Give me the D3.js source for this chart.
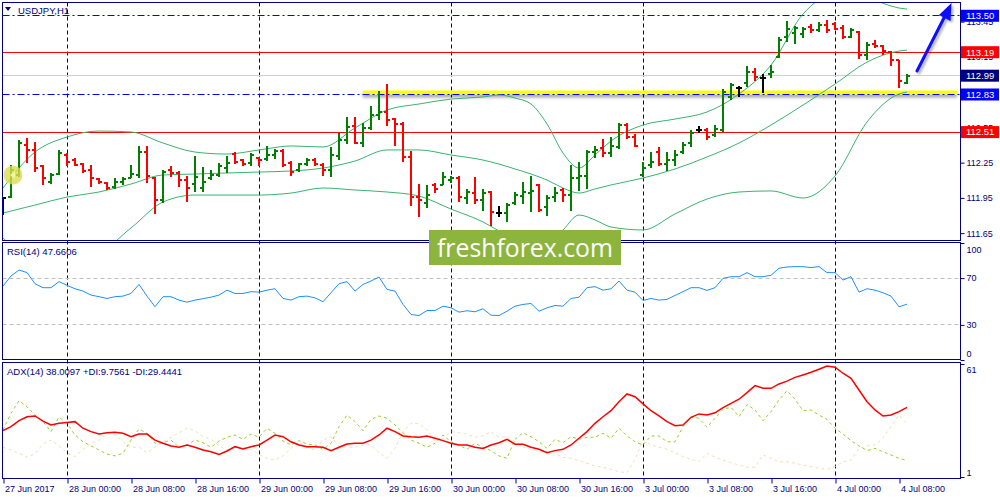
<!DOCTYPE html>
<html>
<head>
<meta charset="utf-8" />
<script src="https://d3js.org/d3.v7.min.js"></script>
<style>
  body { margin: 0; background: #ffffff; }
  svg { display: block; font-family: "Liberation Sans", Arial, sans-serif; }
</style>
</head>
<body>
<svg id="chart" width="1000" height="500"></svg>
<script>
// ---- data (USDJPY H1, bar 0 = 27 Jun 16:00) ----
var openP = [111.949,111.957,112.145,112.400,112.358,112.221,112.085,112.153,112.315,112.272,
  112.238,112.187,112.111,112.077,112.043,112.085,112.119,112.145,112.340,112.119,
  111.932,112.187,112.162,112.102,112.068,112.034,112.119,112.145,112.204,112.323,
  112.272,112.247,112.289,112.281,112.315,112.349,112.247,112.187,112.238,112.272,
  112.230,112.187,112.306,112.443,112.562,112.417,112.545,112.655,112.681,112.621,
  112.579,112.298,111.957,111.906,112.060,112.060,112.102,112.119,111.949,111.991,
  111.932,112.000,111.821,111.821,111.906,111.966,111.991,112.060,111.872,111.957,
  112.017,111.974,112.119,112.136,112.340,112.375,112.332,112.383,112.570,112.468,
  112.145,112.230,112.340,112.238,112.272,112.340,112.417,112.528,112.528,112.485,
  112.528,112.809,112.885,112.928,113.021,112.970,113.004,113.149,113.319,113.353,
  113.345,113.404,113.379,113.421,113.430,113.396,113.319,113.362,113.166,113.260,
  113.243,113.191,113.123,112.928];
var highP = [111.957,112.230,112.443,112.460,112.426,112.230,112.162,112.358,112.332,112.289,
  112.247,112.230,112.119,112.085,112.119,112.128,112.230,112.392,112.392,112.128,
  112.187,112.221,112.179,112.136,112.306,112.213,112.187,112.247,112.306,112.340,
  112.281,112.332,112.298,112.392,112.366,112.366,112.264,112.247,112.289,112.289,
  112.247,112.383,112.502,112.638,112.638,112.587,112.732,112.860,112.919,112.630,
  112.596,112.349,112.068,112.060,112.077,112.170,112.136,112.136,112.026,112.128,
  112.026,112.009,111.881,111.906,112.000,112.085,112.136,112.068,111.974,112.043,
  112.034,112.230,112.255,112.358,112.392,112.451,112.468,112.587,112.587,112.494,
  112.255,112.340,112.383,112.340,112.358,112.426,112.528,112.562,112.545,112.570,
  112.877,112.928,112.902,113.072,113.055,113.004,113.081,113.319,113.455,113.413,
  113.404,113.430,113.447,113.464,113.447,113.421,113.396,113.370,113.277,113.294,
  113.251,113.200,113.123,113.004];
var lowP = [111.804,111.949,112.128,112.247,112.170,112.060,112.068,112.145,112.221,112.221,
  112.162,112.043,112.068,112.017,112.026,112.060,112.119,112.119,112.077,111.813,
  111.906,112.128,112.043,111.915,112.000,112.000,112.102,112.128,112.162,112.238,
  112.221,112.221,112.221,112.264,112.281,112.213,112.136,112.170,112.221,112.221,
  112.136,112.128,112.272,112.409,112.409,112.383,112.528,112.613,112.562,112.392,
  112.255,111.881,111.787,111.864,111.991,112.060,112.077,111.915,111.898,111.898,
  111.838,111.711,111.787,111.745,111.889,111.898,111.830,111.830,111.796,111.915,
  111.915,111.838,112.009,112.026,112.289,112.298,112.298,112.366,112.451,112.383,
  112.128,112.204,112.221,112.179,112.221,112.323,112.383,112.502,112.443,112.468,
  112.511,112.783,112.809,112.894,112.945,112.843,112.970,113.140,113.277,113.260,
  113.311,113.353,113.362,113.353,113.379,113.302,113.311,113.132,113.123,113.225,
  113.166,113.072,112.885,112.919];
var closeP = [111.949,112.187,112.417,112.358,112.204,112.119,112.145,112.332,112.255,112.230,
  112.179,112.119,112.085,112.034,112.085,112.111,112.153,112.340,112.136,111.932,
  112.170,112.162,112.102,112.034,112.128,112.085,112.145,112.221,112.247,112.255,
  112.238,112.315,112.272,112.315,112.349,112.230,112.170,112.238,112.272,112.238,
  112.187,112.315,112.443,112.553,112.417,112.545,112.655,112.681,112.613,112.579,
  112.298,111.957,111.932,111.974,112.026,112.128,112.119,111.957,112.000,111.932,
  111.991,111.830,111.821,111.889,111.974,112.000,112.009,111.847,111.949,111.991,
  111.974,112.119,112.136,112.340,112.358,112.332,112.392,112.570,112.468,112.392,
  112.204,112.255,112.238,112.272,112.315,112.400,112.502,112.528,112.468,112.536,
  112.851,112.911,112.885,113.021,112.979,112.970,113.021,113.294,113.387,113.396,
  113.387,113.379,113.421,113.379,113.387,113.319,113.379,113.166,113.251,113.243,
  113.200,113.123,112.945,112.990];

// Bollinger bands, read at these bar indices
var bbIdx = [0,4,8,12,16,20,24,28,32,36,40,44,48,52,56,60,62,64,66,68,70,72,74,76,80,84,88,92,96,100,104,108,112,113];
var bbUpper = [112.034,112.340,112.468,112.519,112.511,112.417,112.340,112.323,112.358,112.392,
  112.383,112.545,112.698,112.749,112.791,112.809,112.826,112.800,112.749,112.579,
  112.332,112.204,112.315,112.434,112.570,112.621,112.681,112.834,113.081,113.515,
  113.685,113.651,113.566,113.557];
var bbMiddle = [111.821,111.889,111.957,112.000,112.068,112.145,112.153,112.162,112.170,112.179,
  112.204,112.264,112.358,112.358,112.315,112.272,112.238,112.196,112.153,112.102,
  112.034,111.991,112.026,112.060,112.119,112.196,112.298,112.417,112.570,112.740,
  112.919,113.106,113.200,113.208];
var bbLower = [111.609,111.438,111.447,111.489,111.694,111.915,111.974,111.974,111.974,111.991,
  112.034,112.017,112.000,111.966,111.855,111.745,111.668,111.592,111.549,111.549,
  111.677,111.804,111.762,111.702,111.677,111.813,111.940,112.000,112.009,111.949,
  112.136,112.596,112.834,112.851];

var rsi = [63.2,71.8,76.9,74.7,65.2,61.8,61.8,67.0,63.8,60.9,58.9,55.5,54.1,52.6,54.1,54.6,56.9,64.6,54.6,45.5,
  54.1,54.1,51.2,49.4,51.2,52.4,53.7,55.5,59.7,56.9,56.9,58.4,58.0,59.7,60.9,52.6,51.2,54.1,54.6,53.1,
  49.8,57.5,65.2,67.0,58.9,64.6,67.5,70.9,60.3,58.9,47.5,38.9,38.0,42.3,42.3,46.0,44.6,40.9,42.1,41.2,
  43.8,38.3,38.0,41.7,46.0,47.5,48.3,41.7,44.6,46.6,46.0,52.6,53.7,61.8,62.7,59.7,60.9,67.5,59.7,58.0,
  50.9,52.6,51.2,51.8,55.2,58.4,61.8,61.8,59.5,61.8,69.8,71.2,71.2,74.7,71.2,71.2,72.4,78.4,79.5,79.8,
  79.8,79.0,79.8,74.7,74.7,68.3,71.2,58.0,60.9,59.7,57.5,54.6,45.5,47.7];

var adx = [25.6,27.7,30.9,33.0,33.4,30.7,28.6,29.5,30.0,30.4,26.9,25.1,23.8,24.5,24.7,24.2,22.4,23.8,23.8,20.6,
  18.9,17.5,16.8,18.0,16.8,15.3,14.4,13.0,14.8,17.1,15.9,17.1,18.0,20.6,23.3,22.4,19.7,18.0,17.1,17.1,
  16.8,15.0,16.8,18.5,18.9,18.9,20.6,23.3,26.9,25.1,22.8,22.4,22.1,22.8,21.6,20.3,18.9,18.0,18.0,16.8,
  16.2,18.0,19.2,21.0,18.4,18.4,16.8,15.7,13.9,15.0,15.7,18.0,21.6,25.1,29.5,33.0,36.2,41.0,45.1,43.6,
  39.8,36.2,33.4,30.4,28.2,28.6,32.7,34.5,33.9,35.1,37.8,40.1,42.3,45.8,49.5,48.1,48.1,50.4,51.9,53.9,
  55.2,56.6,58.2,59.9,59.3,56.1,53.4,47.2,41.0,36.6,33.4,33.9,35.7,38.0];
var plusDI = [26.0,34.8,41.5,38.3,33.9,30.4,25.1,32.7,29.5,23.3,19.7,17.5,15.3,13.2,12.2,13.6,20.6,26.5,24.2,18.9,
  19.2,20.6,16.8,18.0,20.6,19.2,16.8,20.1,22.1,23.3,21.0,23.8,22.1,26.9,24.2,20.1,18.0,20.3,18.5,18.0,
  15.7,18.9,27.7,33.9,30.4,25.6,31.6,33.4,32.2,28.6,24.5,20.6,18.9,16.8,18.9,23.3,19.7,18.0,15.7,18.9,
  16.8,15.0,12.2,10.9,21.0,24.5,22.4,19.7,16.2,21.0,19.2,22.4,21.0,22.1,22.1,24.2,21.6,26.9,22.8,19.7,
  18.0,22.8,22.8,19.7,19.7,27.7,32.7,32.2,27.4,32.2,37.0,38.0,33.0,39.5,36.6,30.9,35.7,41.9,46.8,42.3,
  36.2,36.6,33.9,31.6,26.9,23.8,20.3,17.5,15.0,16.2,14.4,12.7,10.9,9.8];
var minusDI = [16.8,15.3,13.6,11.5,13.2,18.5,20.6,17.5,13.9,11.8,15.7,18.9,20.6,24.2,23.3,19.7,16.8,16.8,13.9,16.8,
  19.7,22.1,24.5,26.9,25.6,22.4,21.0,17.5,15.3,17.1,16.8,15.7,13.0,10.9,10.0,12.2,16.2,19.2,16.8,15.3,
  20.6,22.4,17.5,16.8,16.8,18.0,18.0,13.9,10.9,16.2,25.1,29.5,29.3,26.0,19.7,21.6,25.1,24.5,23.8,22.1,
  22.8,25.1,22.1,22.4,19.7,16.8,15.7,14.4,14.4,13.6,11.5,10.9,9.7,8.3,6.8,6.2,5.1,3.8,3.3,10.4,
  20.6,18.0,16.8,15.7,13.9,11.8,10.4,9.1,13.6,11.5,10.0,8.6,7.4,6.2,6.2,12.7,10.9,9.1,9.1,8.3,
  7.4,6.5,5.6,5.1,6.5,9.1,10.0,16.2,17.5,18.0,21.6,27.7,33.9,29.4];

// 112.85 sits fully under the 112.83 label box in the picture, so only its tick is drawn
var priceTicks = [111.65, 111.95, 112.25, 112.55, 112.85, 113.15, 113.45];
var hiddenPriceLabels = [112.85];
var rsiTicks = [0, 30, 70, 100];
var rsiLevels = [30, 70];
var adxTicks = [1, 61];
var levels = [113.50, 113.19, 112.99, 112.83, 112.51];
var levelKind = ["dashdot", "solid", "bid", "dashdot", "solid"];
var dayStarts = [8, 32, 56, 80, 104];
var timeTickIdx = [0,8,16,24,32,40,48,56,64,72,80,88,96,104,112];
var timeLabels = ["27 Jun 2017","28 Jun 00:00","28 Jun 08:00","28 Jun 16:00","29 Jun 00:00",
  "29 Jun 08:00","29 Jun 16:00","30 Jun 00:00","30 Jun 08:00","30 Jun 16:00",
  "3 Jul 00:00","3 Jul 08:00","3 Jul 16:00","4 Jul 00:00","4 Jul 08:00"];

// ---- layout ----
var navy = "#000080";
var left = 2.5, right = 960.5;
var mainTop = 2.5, mainBottom = 240.5;
var rsiTop = 242.5, rsiBottom = 359.5;
var adxTop = 362.5, adxBottom = 478.5;

var x = d3.scaleLinear().domain([0, 113]).range([3, 907]);
var yMain = d3.scaleLinear().domain([111.583, 113.613]).range([241, 2.5]);
var yRsi = d3.scaleLinear().domain([0, 100]).range([360, 243]);
var yAdx = d3.scaleLinear().domain([1, 61]).range([477, 364]);
function crisp(v) { return Math.floor(v) + 0.5; }

var svg = d3.select("#chart");
svg.append("rect").attr("width", 1000).attr("height", 500).attr("fill", "#fff");

var defs = svg.append("defs");
function clip(id, y0, y1) {
  defs.append("clipPath").attr("id", id).append("rect")
    .attr("x", 3).attr("y", y0).attr("width", 957.5).attr("height", y1 - y0);
}
clip("clipMain", 3, 240.5);
clip("clipRsi", 243, 359.5);
clip("clipAdx", 363, 478.5);

defs.append("filter").attr("id", "shadow")
  .attr("x", "-10%").attr("y", "-60%").attr("width", "120%").attr("height", "400%")
  .append("feDropShadow").attr("dx", 0).attr("dy", 3).attr("stdDeviation", 1.5)
  .attr("flood-color", "#000").attr("flood-opacity", 0.35);
defs.append("filter").attr("id", "arrowShadow")
  .attr("x", "-50%").attr("y", "-50%").attr("width", "200%").attr("height", "200%")
  .append("feDropShadow").attr("dx", 2).attr("dy", 2).attr("stdDeviation", 1.2)
  .attr("flood-color", "#000").attr("flood-opacity", 0.3);

// ---- vertical day separators across all panels ----
svg.append("g").selectAll("line").data(dayStarts).join("line")
  .attr("x1", d => x(d) + 0.5).attr("x2", d => x(d) + 0.5)
  .attr("y1", mainTop).attr("y2", adxBottom)
  .attr("stroke", navy).attr("stroke-width", 1).attr("stroke-dasharray", "4,3");

// ---- main panel ----
var gMain = svg.append("g").attr("clip-path", "url(#clipMain)");

// yellow support highlight under 112.83
gMain.append("rect")
  .attr("x", x(44.95)).attr("y", yMain(112.83) - 4)
  .attr("width", 957 - x(44.95)).attr("height", 4)
  .attr("fill", "#ffff00").attr("filter", "url(#shadow)");

var kindStroke = { dashdot: "#0000ff", solid: "#ff0000", bid: "#d0d0d0" };
var kindBox = { dashdot: "#0000ff", solid: "#ff0000", bid: "#00007f" };
gMain.selectAll(".level").data(levels).join("line").attr("class", "level")
  .attr("x1", left).attr("x2", right)
  .attr("y1", d => crisp(yMain(d))).attr("y2", d => crisp(yMain(d)))
  .attr("stroke", (d, k) => kindStroke[levelKind[k]])
  .attr("stroke-width", 1)
  .attr("stroke-dasharray", (d, k) => levelKind[k] === "dashdot" ? "7,3,2,3" : null);

var bandLine = d3.line()
  .x((d, k) => x(bbIdx[k]))
  .y(d => yMain(d))
  .curve(d3.curveMonotoneX);
[bbUpper, bbMiddle, bbLower].forEach(function (arr) {
  gMain.append("path").attr("d", bandLine(arr))
    .attr("fill", "none").attr("stroke", "#3cb371").attr("stroke-width", 1);
});

var bars = d3.range(closeP.length).map(function (i) {
  return { i: i, o: openP[i], h: highP[i], l: lowP[i], c: closeP[i] };
});
var barG = gMain.selectAll(".bar").data(bars).join("g").attr("class", "bar")
  .attr("stroke", d => d.c > d.o ? "#008000" : (d.c < d.o ? "#ff0000" : "#000000"))
  .attr("shape-rendering", "crispEdges");
barG.append("line")
  .attr("x1", d => x(d.i)).attr("x2", d => x(d.i))
  .attr("y1", d => yMain(d.h)).attr("y2", d => yMain(d.l))
  .attr("stroke-width", 2);
barG.append("line")
  .attr("x1", d => x(d.i) - 3).attr("x2", d => x(d.i))
  .attr("y1", d => yMain(d.o)).attr("y2", d => yMain(d.o))
  .attr("stroke-width", 2);
barG.append("line")
  .attr("x1", d => x(d.i)).attr("x2", d => x(d.i) + 3)
  .attr("y1", d => yMain(d.c)).attr("y2", d => yMain(d.c))
  .attr("stroke-width", 2);

// ---- RSI panel ----
var gRsi = svg.append("g").attr("clip-path", "url(#clipRsi)");
gRsi.selectAll(".lvl").data(rsiLevels).join("line").attr("class", "lvl")
  .attr("x1", left).attr("x2", right)
  .attr("y1", d => crisp(yRsi(d))).attr("y2", d => crisp(yRsi(d)))
  .attr("stroke", "#c0c0c0").attr("stroke-dasharray", "4,3");
gRsi.append("path")
  .attr("d", d3.line().x((d, i) => x(i)).y(d => yRsi(d))(rsi))
  .attr("fill", "none").attr("stroke", "#1e90ff").attr("stroke-width", 1);

// ---- ADX panel ----
var gAdx = svg.append("g").attr("clip-path", "url(#clipAdx)");
var adxLine = d3.line().x((d, i) => x(i)).y(d => yAdx(d));
gAdx.append("path").attr("d", adxLine(minusDI))
  .attr("fill", "none").attr("stroke", "#f5deb3").attr("stroke-width", 1).attr("stroke-dasharray", "3,3");
gAdx.append("path").attr("d", adxLine(plusDI))
  .attr("fill", "none").attr("stroke", "#9acd32").attr("stroke-width", 1).attr("stroke-dasharray", "3,3");
gAdx.append("path").attr("d", adxLine(adx))
  .attr("fill", "none").attr("stroke", "#ff0000").attr("stroke-width", 1.5);

// ---- panel frames ----
[[mainTop, mainBottom], [rsiTop, rsiBottom], [adxTop, adxBottom]].forEach(function (p) {
  svg.append("rect").attr("x", left).attr("y", p[0])
    .attr("width", right - left).attr("height", p[1] - p[0])
    .attr("fill", "none").attr("stroke", navy).attr("stroke-width", 1);
});

// ---- axes ----
function styleAxis(g) {
  g.attr("color", navy).attr("font-size", 9).attr("font-family", '"Liberation Sans", Arial, sans-serif');
  g.select(".domain").remove();
}
svg.append("g").attr("transform", "translate(" + right + ",0)")
  .call(d3.axisRight(yMain).tickValues(priceTicks).tickSize(4).tickPadding(2)
    .tickFormat(d => hiddenPriceLabels.indexOf(d) >= 0 ? "" : d3.format(".2f")(d)))
  .call(styleAxis);

svg.append("g").attr("transform", "translate(" + right + ",0)")
  .call(d3.axisRight(yRsi).tickValues(rsiTicks).tickSize(4).tickPadding(2))
  .call(styleAxis)
  .selectAll("text").attr("dy", d => d === 100 ? "1em" : (d === 0 ? "-0.38em" : "0.32em"));

svg.append("g").attr("transform", "translate(" + right + ",0)")
  .call(d3.axisRight(yAdx).tickValues(adxTicks).tickSize(4).tickPadding(2))
  .call(styleAxis)
  .selectAll("text").attr("dy", d => d === 61 ? "0.9em" : "-0.22em");

var tAxis = svg.append("g").attr("transform", "translate(0.5," + adxBottom + ")")
  .call(d3.axisBottom(x).tickValues(timeTickIdx).tickSize(5).tickPadding(2)
    .tickFormat((d, k) => timeLabels[k]))
  .call(styleAxis);
tAxis.selectAll("text").attr("text-anchor", "start").attr("x", 1);

// ---- price label boxes ----
var boxG = svg.append("g").selectAll("g").data(levels).join("g")
  .attr("transform", d => "translate(961," + yMain(d) + ")");
boxG.append("rect").attr("x", 0).attr("y", -6).attr("width", 38).attr("height", 12)
  .attr("fill", (d, k) => kindBox[levelKind[k]]);
boxG.append("text").attr("x", 5).attr("dy", "0.35em")
  .attr("fill", "#fff").attr("font-size", 9.5)
  .text(d => d3.format(".2f")(d));

// ---- panel titles ----
svg.append("path").attr("d", "M5,7 L11,7 L8,11 Z").attr("fill", navy);
svg.append("text").attr("x", 18).attr("y", 14).attr("font-size", 9.5).attr("fill", navy).text("USDJPY,H1");
svg.append("text").attr("x", 7).attr("y", 255).attr("font-size", 9.5).attr("fill", navy)
  .text("RSI(14) " + d3.format(".4f")(47.6606));
svg.append("text").attr("x", 7).attr("y", 375).attr("font-size", 9.5).attr("fill", navy)
  .text("ADX(14) 38.0097 +DI:9.7561 -DI:29.4441");

// ---- marker circle at the start ----
svg.append("circle").attr("cx", 13).attr("cy", 175).attr("r", 9.5)
  .attr("fill", "#dcdc50").attr("opacity", 0.8);
svg.append("path").attr("d", "M10,175 L15,171 L15,179 Z").attr("fill", "#f4f4a0");

// ---- watermark ----
svg.append("rect").attr("x", 429).attr("y", 230).attr("width", 192).attr("height", 35)
  .attr("fill", "#8db53e");
svg.append("text").attr("x", 437).attr("y", 257)
  .attr("font-family", '"Open Sans", "Noto Sans", sans-serif').attr("font-size", 26)
  .attr("fill", "#ffffff").attr("textLength", 176).attr("lengthAdjust", "spacingAndGlyphs")
  .text("freshforex.com");

// ---- forecast arrow ----
var arrowG = svg.append("g").attr("filter", "url(#arrowShadow)");
arrowG.append("line").attr("x1", 917).attr("y1", 71).attr("x2", 945).attr("y2", 16)
  .attr("stroke", "#0a0aff").attr("stroke-width", 3).attr("stroke-linecap", "round");
arrowG.append("path").attr("d", "M951.5,3 L950.5,21 L939,15 Z").attr("fill", "#0a0aff");
</script>
</body>
</html>
